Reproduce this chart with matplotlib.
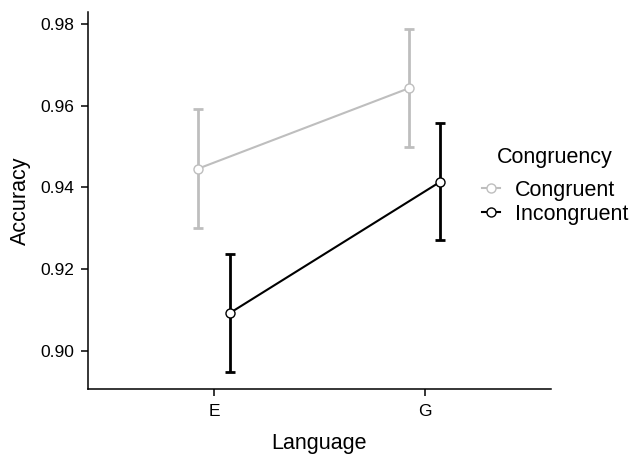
import matplotlib
matplotlib.use("Agg")
import matplotlib.pyplot as plt
import numpy as np

plt.rcParams['font.family'] = ['Liberation Sans', 'DejaVu Sans']

# %% Data

languages = ['E', 'G']
groups = ['Congruent', 'Incongruent']
colours = {'Congruent': '#BEBEBE', 'Incongruent': '#000000'}

acc_mean = {'Congruent': [0.9446, 0.9643], 'Incongruent': [0.9092, 0.9414]}
acc_low = {'Congruent': [0.9301, 0.9499], 'Incongruent': [0.8948, 0.9270]}
acc_high = {'Congruent': [0.9592, 0.9788], 'Incongruent': [0.9237, 0.9559]}

dodge = {'Congruent': -0.075, 'Incongruent': 0.075}

# %% Figure

fig = plt.figure(figsize=(6.32, 4.54), dpi=100)
ax = fig.add_axes([0.1385, 0.1432, 0.8718 - 0.1385, 0.9736 - 0.1432])

xpos = np.arange(1, len(languages) + 1)
handles = []
for g in groups:
    x = xpos + dodge[g]
    m = np.array(acc_mean[g])
    lo = m - np.array(acc_low[g])
    hi = np.array(acc_high[g]) - m
    ax.errorbar(x, m, yerr=[lo, hi], fmt='none', ecolor=colours[g],
                elinewidth=2, capsize=3.5, capthick=2, zorder=2)
    h, = ax.plot(x, m, '-o', color=colours[g], lw=1.5, ms=6.5,
                 mfc='white', mec=colours[g], mew=1, zorder=3, label=g)
    handles.append(h)

ax.set_xlim(0.4, 2.6)
ax.set_ylim(0.8906, 0.9830)
ax.set_xticks(xpos)
ax.set_xticklabels(languages)
ax.set_yticks([0.90, 0.92, 0.94, 0.96, 0.98])
ax.set_yticklabels(['0.90', '0.92', '0.94', '0.96', '0.98'])

for s in ['top', 'right']:
    ax.spines[s].set_visible(False)
for s in ['left', 'bottom']:
    ax.spines[s].set_linewidth(1.1)
ax.tick_params(axis='both', labelsize=12.5, length=5, width=1.1,
               colors='black')
ax.tick_params(axis='y', pad=4.5)
ax.tick_params(axis='x', pad=6)

ax.set_xlabel('Language', fontsize=15.5, labelpad=10)
ax.set_ylabel('Accuracy', fontsize=15.5, labelpad=7)

# légende
fig.text(497 / 632, 1 - 158 / 454, 'Congruency', fontsize=15.5,
         ha='left', va='center')
leg = fig.legend(handles=handles, loc='upper left',
                 bbox_to_anchor=(482 / 632, 1 - 180 / 454), frameon=False,
                 fontsize=15.5, handlelength=0.85, handletextpad=0.7,
                 labelspacing=0.12, borderpad=0, borderaxespad=0)

fig.savefig('out.png', dpi=100)
